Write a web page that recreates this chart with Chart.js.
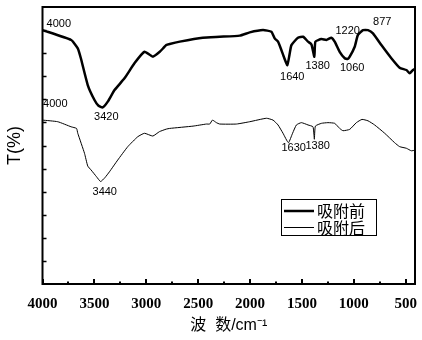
<!DOCTYPE html>
<html>
<head>
<meta charset="utf-8">
<script src="https://cdn.jsdelivr.net/npm/chart.js@4"></script>
<style>
  html, body { margin: 0; padding: 0; background: #fff; }
</style>
</head>
<body>
<canvas id="ir" width="422" height="340"></canvas>
<script>
// IR spectrum: wavenumber (cm-1) and T (arbitrary %)
let beforeX = [4000, 3724, 3660, 3631, 3564, 3499, 3460, 3420, 3371, 3306, 3210, 3114, 3017, 2937, 2870, 2807, 2774, 2677, 2456, 2292, 2099, 2003, 1875, 1794, 1762, 1730, 1698, 1670, 1640, 1620, 1601, 1538, 1489, 1441, 1408, 1380, 1370, 1312, 1264, 1216, 1184, 1136, 1087, 1060, 1039, 991, 960, 911, 863, 815, 734, 638, 558, 493, 461, 430, 410];
let beforeT = [110.0, 105.7, 102.1, 97.9, 86.2, 79.7, 77.2, 76.5, 79.0, 84.0, 89.1, 95.6, 100.6, 98.5, 100.6, 103.5, 104.0, 105.0, 106.7, 107.1, 107.6, 109.0, 110.0, 109.3, 106.4, 105.0, 101.4, 97.9, 94.8, 99.2, 103.5, 106.7, 107.1, 105.0, 103.8, 98.5, 105.0, 106.1, 105.7, 106.7, 105.0, 100.6, 97.8, 97.5, 98.5, 102.8, 107.9, 110.0, 110.0, 108.6, 103.5, 97.8, 93.7, 92.7, 91.3, 92.7, 93.2];

let afterX = [4000, 3853, 3724, 3672, 3660, 3595, 3564, 3532, 3480, 3440, 3400, 3355, 3275, 3178, 3082, 3017, 2937, 2873, 2807, 2774, 2549, 2420, 2388, 2362, 2324, 2292, 2131, 2003, 1842, 1778, 1730, 1682, 1630, 1590, 1553, 1505, 1441, 1393, 1380, 1370, 1312, 1249, 1184, 1136, 1104, 1039, 975, 921, 863, 799, 702, 606, 558, 493, 445, 410];
let afterT = [71.0, 70.3, 68.1, 67.4, 65.3, 56.6, 51.1, 49.4, 46.5, 44.4, 46.0, 48.6, 53.7, 59.5, 63.8, 65.3, 64.1, 66.0, 67.1, 67.4, 68.4, 69.3, 69.3, 71.0, 69.9, 69.3, 69.3, 70.3, 71.8, 71.0, 68.9, 65.3, 61.2, 65.3, 68.9, 69.9, 68.9, 68.1, 62.7, 68.4, 69.6, 69.9, 69.6, 67.4, 66.4, 67.0, 69.9, 71.3, 70.7, 68.9, 65.3, 61.2, 59.5, 58.8, 57.7, 58.0];

let seriesNames = ['吸附前', '吸附后'];
let xTicks = [4000, 3750, 3500, 3250, 3000, 2750, 2500, 2250, 2000, 1750, 1500, 1250, 1000, 750, 500];

// peak labels (in data units)
let peakText = ['4000', '3420', '4000', '3440', '1640', '1380', '1060', '1220', '877', '1630', '1380'];
let peakX = [3843, 3385, 3877, 3400, 1593, 1348, 1015, 1059, 726, 1579, 1348];
let peakY = [112.8, 72.3, 77.8, 39.9, 89.8, 94.4, 93.4, 109.6, 113.3, 58.9, 59.8];

function pts(xs, ys) {
  return xs.map((v, i) => ({ x: v, y: ys[i] }));
}

const extras = {
  id: 'extras',
  afterDraw(chart) {
    const { ctx, chartArea: a, scales: { x, y } } = chart;
    ctx.save();
    ctx.strokeStyle = '#000';
    ctx.fillStyle = '#000';

    // frame
    ctx.lineWidth = 2;
    ctx.strokeRect(a.left, a.top, a.right - a.left, a.bottom - a.top);

    // inward ticks
    ctx.beginPath();
    x.ticks.forEach(t => {
      const px = Math.round(x.getPixelForValue(t.value));
      const len = t.value % 500 === 0 ? 5 : 2.5;
      ctx.moveTo(px, a.bottom);
      ctx.lineTo(px, a.bottom - len);
    });
    ctx.stroke();
    ctx.lineWidth = 1.5;
    ctx.beginPath();
    y.ticks.forEach(t => {
      if (t.value <= y.min || t.value >= y.max) return;
      const py = Math.round(y.getPixelForValue(t.value)) + 0.5;
      ctx.moveTo(a.left, py);
      ctx.lineTo(a.left + 4, py);
    });
    ctx.stroke();

    // peak labels
    ctx.font = '11px "Liberation Sans", Arial, sans-serif';
    ctx.textAlign = 'center';
    ctx.textBaseline = 'middle';
    peakText.forEach((s, i) => {
      ctx.fillText(s, x.getPixelForValue(peakX[i]), y.getPixelForValue(peakY[i]));
    });

    // legend
    const bx = 281, by = 199, bw = 95, bh = 36;
    ctx.lineWidth = 1;
    ctx.strokeRect(bx + 0.5, by + 0.5, bw, bh);
    ctx.font = '16px "Noto Sans CJK SC", sans-serif';
    ctx.textAlign = 'left';
    chart.data.datasets.forEach((ds, i) => {
      const ly = by + 12 + i * 16.5;
      ctx.lineWidth = ds.borderWidth;
      ctx.beginPath();
      ctx.moveTo(bx + 3, ly);
      ctx.lineTo(bx + 33, ly);
      ctx.stroke();
      ctx.fillText(ds.label, bx + 36, ly);
    });
    ctx.restore();
  }
};

new Chart(document.getElementById('ir'), {
  type: 'line',
  data: {
    datasets: [
      { label: seriesNames[0], data: pts(beforeX, beforeT), borderColor: '#000', borderWidth: 2.5, pointRadius: 0, tension: 0.15, fill: false },
      { label: seriesNames[1], data: pts(afterX, afterT), borderColor: '#000', borderWidth: 1, pointRadius: 0, tension: 0.15, fill: false }
    ]
  },
  options: {
    responsive: false,
    animation: false,
    layout: { padding: { left: 0, right: 7, top: 7, bottom: 0 } },
    plugins: { legend: { display: false }, tooltip: { enabled: false } },
    scales: {
      x: {
        type: 'linear',
        reverse: true,
        min: 410,
        max: 4000,
        grid: { display: false },
        border: { display: false },
        afterBuildTicks: s => { s.ticks = xTicks.map(v => ({ value: v })); },
        afterFit: s => { s.height = 56; },
        ticks: {
          autoSkip: false,
          maxRotation: 0,
          padding: 3,
          color: '#000',
          font: { family: '"Liberation Serif", "Times New Roman", serif', size: 15, weight: 'bold' },
          callback: v => (v % 500 === 0 ? String(v) : '')
        },
        title: {
          display: true,
          text: '波  数/cm⁻¹',
          color: '#000',
          padding: { top: 0, bottom: 5 },
          font: { family: '"Liberation Sans", "Noto Sans CJK SC", sans-serif', size: 16 }
        }
      },
      y: {
        min: 0,
        max: 120,
        grid: { display: false },
        border: { display: false },
        ticks: { display: false, stepSize: 10 },
        afterFit: s => { s.width = 42.5; },
        title: {
          display: true,
          text: 'T(%)',
          color: '#000',
          padding: { top: 4, bottom: 0 },
          font: { family: '"Liberation Sans", Arial, sans-serif', size: 18 }
        }
      }
    }
  },
  plugins: [extras]
});
</script>
</body>
</html>
